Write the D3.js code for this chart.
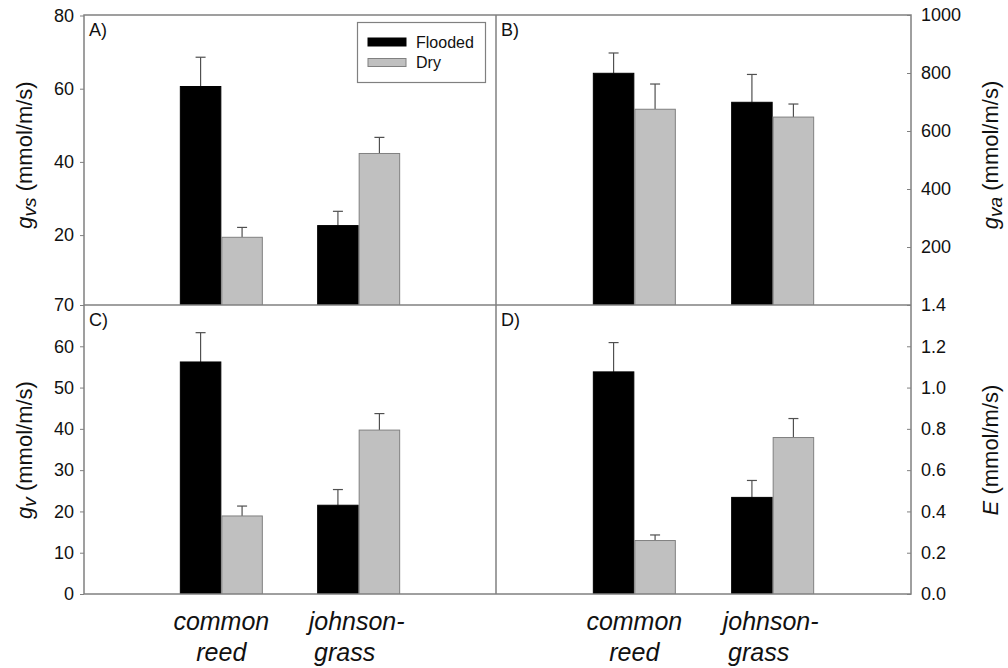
<!DOCTYPE html>
<html><head><meta charset="utf-8">
<script src="https://cdn.jsdelivr.net/npm/d3@7"></script>
<style>
body{margin:0;background:#fff;}
text{font-family:"Liberation Sans",Arial,sans-serif;fill:#111;}
</style></head>
<body>
<svg id="chart" width="1008" height="668"></svg>
<script>
// ---- data ----
const categories = ["common reed", "johnsongrass"];
const categoryLines = [["common", "reed"], ["johnson-", "grass"]];
const series = ["Flooded", "Dry"];

const gvsFlooded = [60.6, 22.6], gvsFloodedErr = [8.0, 3.9];
const gvsDry = [19.4, 42.3], gvsDryErr = [2.7, 4.4];
const gvaFlooded = [799, 699], gvaFloodedErr = [70, 96];
const gvaDry = [675, 648], gvaDryErr = [87, 45];
const gvFlooded = [56.2, 21.5], gvFloodedErr = [7.1, 3.8];
const gvDry = [18.9, 39.7], gvDryErr = [2.4, 4.0];
const eFlooded = [1.076, 0.468], eFloodedErr = [0.142, 0.082];
const eDry = [0.259, 0.758], eDryErr = [0.027, 0.092];

const ticksA = [20, 40, 60, 80];
const ticksB = [200, 400, 600, 800, 1000];
const ticksC = [0, 10, 20, 30, 40, 50, 60, 70];
const ticksD = [0, 0.2, 0.4, 0.6, 0.8, 1.0, 1.2, 1.4];

// ---- layout ----
const svg = d3.select("#chart");
const L = 84, M = 496, R = 911, T = 15, H = 305, B = 594;
const axisColor = "#808080";
const colors = {Flooded: "#000000", Dry: "#c0c0c0"};
const strokes = {Flooded: "#000000", Dry: "#808080"};

const panels = [
  {id:"A", x0:L, x1:M, y0:T, y1:H, dom:[0,80], rng:[308.3,15.5], ticks:ticksA, fmt:d3.format("d"), side:"left",
   vals:{Flooded:gvsFlooded, Dry:gvsDry}, errs:{Flooded:gvsFloodedErr, Dry:gvsDryErr}},
  {id:"B", x0:M, x1:R, y0:T, y1:H, dom:[0,1000], rng:[H,T], ticks:ticksB, fmt:d3.format("d"), side:"right",
   vals:{Flooded:gvaFlooded, Dry:gvaDry}, errs:{Flooded:gvaFloodedErr, Dry:gvaDryErr}},
  {id:"C", x0:L, x1:M, y0:H, y1:B, dom:[0,70], rng:[B,H], ticks:ticksC, fmt:d3.format("d"), side:"left",
   vals:{Flooded:gvFlooded, Dry:gvDry}, errs:{Flooded:gvFloodedErr, Dry:gvDryErr}},
  {id:"D", x0:M, x1:R, y0:H, y1:B, dom:[0,1.4], rng:[B,H], ticks:ticksD, fmt:d3.format(".1f"), side:"right",
   vals:{Flooded:eFlooded, Dry:eDry}, errs:{Flooded:eFloodedErr, Dry:eDryErr}}
];

const defs = svg.append("defs");

panels.forEach(p => {
  const x = d3.scalePoint().domain(categories).range([p.x0, p.x1]).padding(1);
  const xs = d3.scaleBand().domain(series).range([-41.5, 41.5]).padding(0);
  const y = d3.scaleLinear().domain(p.dom).range(p.rng);

  defs.append("clipPath").attr("id", "clip" + p.id)
    .append("rect").attr("x", p.x0).attr("y", p.y0).attr("width", p.x1 - p.x0).attr("height", p.y1 - p.y0);

  const g = svg.append("g").attr("clip-path", `url(#clip${p.id})`);
  series.forEach(s => {
    // error bars (upper only)
    categories.forEach((c, i) => {
      const cx = x(c) + xs(s) + xs.bandwidth() / 2;
      const top = y(p.vals[s][i] + p.errs[s][i]);
      g.append("line").attr("x1", cx).attr("x2", cx)
        .attr("y1", y(p.vals[s][i])).attr("y2", top)
        .attr("stroke", "#505050").attr("stroke-width", 1.2);
      g.append("line").attr("x1", cx - 5).attr("x2", cx + 5)
        .attr("y1", top).attr("y2", top)
        .attr("stroke", "#505050").attr("stroke-width", 1.2);
    });
    g.selectAll(null).data(p.vals[s]).enter().append("rect")
      .attr("x", (d, i) => x(categories[i]) + xs(s) + 0.5)
      .attr("width", xs.bandwidth() - 1)
      .attr("y", d => y(d))
      .attr("height", d => p.y1 - y(d) + 2)
      .attr("fill", colors[s]).attr("stroke", strokes[s]).attr("stroke-width", 1);
  });

  // axis ticks + labels
  const ax = p.side === "left"
    ? d3.axisLeft(y).tickValues(p.ticks).tickSize(4).tickPadding(6).tickFormat(p.fmt)
    : d3.axisRight(y).tickValues(p.ticks).tickSizeInner(-4).tickSizeOuter(0).tickPadding(10).tickFormat(p.fmt);
  const ag = svg.append("g").attr("transform", `translate(${p.side === "left" ? L : R},0)`).call(ax);
  ag.select(".domain").remove();
  ag.selectAll(".tick line").attr("stroke", axisColor);
  ag.selectAll(".tick text").attr("font-size", 18).attr("fill", "#111")
    .attr("font-family", "Liberation Sans, Arial, sans-serif");

  // panel letter
  svg.append("text").attr("x", p.x0 + 5).attr("y", p.y0 + 21)
    .attr("font-size", 18).text(p.id + ")");

  // category labels for bottom panels
  if (p.id === "C" || p.id === "D") {
    categories.forEach((c, i) => {
      categoryLines[i].forEach((ln, j) => {
        const off = (i === 1 && j === 1) ? -14 : (i === 1 ? -2 : 0);
        svg.append("text").attr("x", x(c) + off).attr("y", 630 + j * 31)
          .attr("text-anchor", "middle").attr("font-size", 25).attr("font-style", "italic")
          .text(ln);
      });
    });
  }
});

// frame lines
const frame = svg.append("g").attr("stroke", axisColor).attr("stroke-width", 1.5).attr("fill", "none");
frame.append("rect").attr("x", L).attr("y", T).attr("width", R - L).attr("height", B - T);
frame.append("line").attr("x1", M).attr("x2", M).attr("y1", T).attr("y2", B);
frame.append("line").attr("x1", L).attr("x2", R).attr("y1", H).attr("y2", H);

// y titles
function yTitle(cx, cy, main, sub) {
  const t = svg.append("text").attr("transform", `translate(${cx},${cy}) rotate(-90)`)
    .attr("text-anchor", "middle").attr("font-size", 22);
  t.append("tspan").attr("font-style", "italic").text(main);
  if (sub) t.append("tspan").attr("font-style", "italic").attr("font-size", 19).attr("dy", 4).text(sub);
  t.append("tspan").attr("dy", sub ? -4 : 0).text(" (mmol/m/s)");
}
yTitle(32, 155, "g", "vs");
yTitle(32, 450, "g", "v");
yTitle(998, 155, "g", "va");
yTitle(998, 450, "E", null);

// legend
const lg = svg.append("g");
lg.append("rect").attr("x", 357.5).attr("y", 22.5).attr("width", 128).attr("height", 60)
  .attr("fill", "#fff").attr("stroke", axisColor).attr("stroke-width", 1.2);
series.forEach((s, i) => {
  lg.append("rect").attr("x", 368).attr("y", 38 + i * 20.5).attr("width", 38).attr("height", 8)
    .attr("fill", colors[s]).attr("stroke", strokes[s]).attr("stroke-width", 1);
  lg.append("text").attr("x", 416).attr("y", 47.5 + i * 20.5).attr("font-size", 16).text(s);
});
</script>
</body></html>
